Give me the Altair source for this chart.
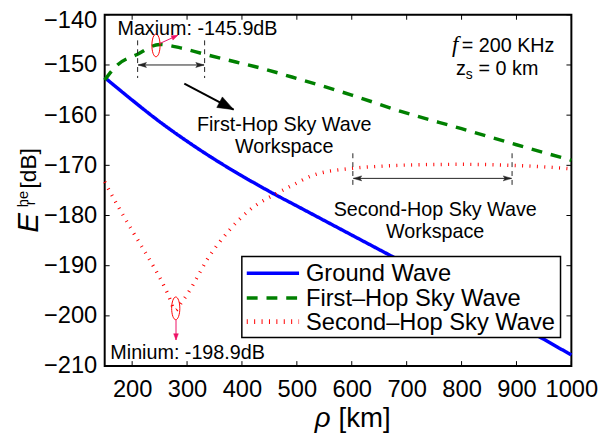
import altair as alt
import pandas as pd
import numpy as np

# ---------------- data ----------------
series_names = ["Ground Wave", "First–Hop Sky Wave", "Second–Hop Sky Wave"]
series_colors = ["#0000ff", "#008000", "#ff0000"]

rho_ground = [150, 200, 250, 300, 350, 400, 450, 500, 600, 700, 800, 900, 1000]
e_ground = [-152.5, -157.0, -161.3, -165.2, -168.8, -172.1, -175.2, -178.1,
            -183.9, -189.7, -195.6, -201.6, -207.8]

rho_first = [150, 173, 209, 250, 288, 330, 389, 437, 491, 600, 691, 800, 900, 1000]
e_first = [-153.0, -150.0, -147.9, -145.9, -146.6, -147.8, -149.4, -150.7,
           -152.4, -156.0, -159.3, -162.7, -165.9, -169.0]

rho_second = [150, 175, 200, 229, 250, 265, 279, 290, 301, 320, 337, 360, 378,
              414, 463, 486, 529, 601, 650, 714, 800, 892, 950, 1000]
e_second = [-173.3, -178.3, -183.0, -188.3, -192.3, -195.6, -198.9, -197.3,
            -195.6, -192.0, -188.7, -185.2, -182.8, -178.9, -175.6, -174.3,
            -172.0, -170.6, -170.2, -169.9, -169.8, -170.0, -170.3, -170.7]

x_ticks = [200, 300, 400, 500, 600, 700, 800, 900, 1000]
y_ticks = [-210, -200, -190, -180, -170, -160, -150, -140]

# annotation values (data units)
max_label = "Maxium: -145.9dB"
min_label = "Minium: -198.9dB"
max_point = (243.4, -146.1)
min_point = (279.4, -198.5)
first_ws = (210, 332)
second_ws = (602, 892)

# ---------------- layout ----------------
W, H = 473, 356
X0, X1 = 150, 1000
Y0, Y1 = -210, -140
SX = W / (X1 - X0)
SY = H / (Y1 - Y0)
FONT = "Liberation Sans"

xs = alt.Scale(domain=[X0, X1], nice=False, zero=False)
ys = alt.Scale(domain=[Y0, Y1], nice=False, zero=False)

rows = []
for name, rr, ee in zip(series_names, [rho_ground, rho_first, rho_second],
                        [e_ground, e_first, e_second]):
    for a, b in zip(rr, ee):
        rows.append({"series": name, "rho": a, "E": b})
df = pd.DataFrame(rows)

dashes = [[1, 0], [11, 9], [1, 6.5]]
widths = [3.5, 3.5, 5]

lines = alt.Chart(df).mark_line(interpolate="monotone").encode(
    x=alt.X("rho:Q", scale=xs, axis=alt.Axis(
        values=x_ticks, format="d", title=None, grid=False, domain=False, ticks=False, tickSize=0,
        labelFontSize=24, labelFont=FONT, labelColor="black", labelPadding=12,
        labelFlush=False, labelOverlap=False, labelBound=False)),
    y=alt.Y("E:Q", scale=ys, axis=alt.Axis(
        values=y_ticks, format="d", title=None, grid=False, domain=False, ticks=False, tickSize=0,
        labelFontSize=24, labelFont=FONT, labelColor="black", labelPadding=8,
        labelOffset={"condition": {"test": "datum.value == -140", "value": 6}, "value": 0},
        labelFlush=False, labelOverlap=False, labelBound=False)),
    color=alt.Color("series:N", scale=alt.Scale(domain=series_names, range=series_colors), legend=None),
    strokeDash=alt.StrokeDash("series:N", scale=alt.Scale(domain=series_names, range=dashes), legend=None),
    strokeWidth=alt.StrokeWidth("series:N", scale=alt.Scale(domain=series_names, range=widths), legend=None),
)

layers = [lines]

# inward ticks on all four sides
xt = pd.DataFrame({"v": x_ticks})
yt = pd.DataFrame({"v": y_ticks})
for ya, yb in [(H, H - 5), (0, 5)]:
    layers.append(alt.Chart(xt).mark_rule(color="black", strokeWidth=1).encode(
        x=alt.X("v:Q", scale=xs), y=alt.value(ya), y2=alt.value(yb)))
for xa, xb in [(0, 5), (W, W - 5)]:
    layers.append(alt.Chart(yt).mark_rule(color="black", strokeWidth=1).encode(
        y=alt.Y("v:Q", scale=ys), x=alt.value(xa), x2=alt.value(xb)))


def dpt(x, y):
    return pd.DataFrame({"x": [x], "y": [y]})


def seg(x1, y1, x2, y2, color, width, dash=None):
    kw = dict(color=color, strokeWidth=width)
    if dash:
        kw["strokeDash"] = dash
    d = pd.DataFrame({"x": [x1], "y": [y1], "x2": [x2], "y2": [y2]})
    return alt.Chart(d).mark_rule(**kw).encode(
        x=alt.X("x:Q", scale=xs), y=alt.Y("y:Q", scale=ys),
        x2="x2:Q", y2="y2:Q")


HEAD_SMALL = "M0,0 L2,-0.6 L1.6,0 L2,0.6 Z"
HEAD_TRI = "M0,0 L2,-0.75 L2,0.75 Z"
ELLIPSE = "M0,-1 A0.36,1 0 1,1 0,1 A0.36,1 0 1,1 0,-1 Z"


def head(x, y, fromx, fromy, shape, size, color):
    dx = (x - fromx) * SX
    dy = -(y - fromy) * SY
    ang = (np.degrees(np.arctan2(dy, dx)) - 180) % 360
    return alt.Chart(dpt(x, y)).mark_point(
        shape=shape, size=size, filled=True, fill=color, stroke=color, strokeWidth=0.5,
        angle=float(ang), opacity=1).encode(
        x=alt.X("x:Q", scale=xs), y=alt.Y("y:Q", scale=ys))


def arrow(x1, y1, x2, y2, color, width, shape, size, both=False):
    out = [seg(x1, y1, x2, y2, color, width), head(x2, y2, x1, y1, shape, size, color)]
    if both:
        out.append(head(x1, y1, x2, y2, shape, size, color))
    return out


def txt(text, x, y, size, align="left", baseline="alphabetic", style="normal",
        angle=0, font=FONT, pix=False, weight="normal"):
    kw = dict(align=align, baseline=baseline, fontSize=size, font=font,
              fontStyle=style, fontWeight=weight, color="black")
    if angle:
        kw["angle"] = angle
    if pix:
        return alt.Chart(pd.DataFrame({"t": [text]})).mark_text(**kw).encode(
            x=alt.value(x), y=alt.value(y), text="t:N")
    d = pd.DataFrame({"x": [x], "y": [y], "t": [text]})
    return alt.Chart(d).mark_text(**kw).encode(
        x=alt.X("x:Q", scale=xs), y=alt.Y("y:Q", scale=ys), text="t:N")


# workspace markers
for (a, b), (ytop, ybot, yarr) in zip([first_ws, second_ws],
                                      [(-145.1, -152.6, -150.0), (-167.6, -174.6, -172.6)]):
    for xv in (a, b):
        layers.append(seg(xv, ytop, xv, ybot, "#222222", 1, dash=[5, 4]))
    layers += arrow(a + 1, yarr, b - 1, yarr, "#222222", 1, HEAD_SMALL, 70, both=True)

# black pointer arrow
layers += arrow(295, -153.7, 384.9, -158.9, "black", 2, HEAD_TRI, 260)

# ellipses at max / min
for (px, py) in (max_point, min_point):
    layers.append(alt.Chart(dpt(px, py)).mark_point(
        shape=ELLIPSE, size=529, filled=False, stroke="#ff0000", strokeWidth=1, opacity=1).encode(
        x=alt.X("x:Q", scale=xs), y=alt.Y("y:Q", scale=ys)))

# magenta arrows
layers += arrow(248.8, -145.8, 283, -144.1, "#ee1166", 1, HEAD_TRI, 40)
layers += arrow(279.9, -200.8, 279.9, -204.8, "#ee1166", 1, HEAD_TRI, 40)

# annotation texts
layers.append(txt(max_label, 319, -142.9, 20, align="center", baseline="middle"))
layers.append(txt(min_label, 301, -207.4, 20, align="center", baseline="middle"))
layers.append(txt("First-Hop Sky Wave", 477, -163.2, 20, align="center"))
layers.append(txt("Workspace", 477, -167.5, 20, align="center"))
layers.append(txt("Second-Hop Sky Wave", 752, -180.1, 20, align="center"))
layers.append(txt("Workspace", 752, -184.4, 20, align="center"))

layers.append(txt("f", 782.5, -147.5, 23, style="italic", font="Liberation Serif"))
layers.append(txt("= 200 KHz", 800.5, -147.5, 20))
layers.append(txt("z", 789.7, -151.9, 20))
layers.append(txt("s", 807.7, -152.7, 14))
layers.append(txt("= 0 km", 831, -151.9, 20))

# legend (drawn by hand)
LX0, LX1, LY0, LY1 = 139, 462, 245, 327
layers.append(alt.Chart(pd.DataFrame({"a": [0]})).mark_rect(
    fill="white", stroke="black", strokeWidth=1.5).encode(
    x=alt.value(LX0), x2=alt.value(LX1), y=alt.value(LY0), y2=alt.value(LY1)))
leg_rows = [262, 287, 311]
for name, col, dsh, wd, yy in zip(series_names, series_colors, dashes, widths, leg_rows):
    layers.append(alt.Chart(pd.DataFrame({"t": [name]})).mark_rule(
        color=col, strokeWidth=wd, strokeDash=dsh).encode(
        x=alt.value(144), x2=alt.value(197), y=alt.value(yy)))
    layers.append(txt(name, 204, yy + 1, 24, baseline="middle", pix=True))

# axis titles
layers.append(txt("ρ", 213, 418, 28, style="italic", pix=True))
layers.append(txt("[km]", 237, 418, 28, pix=True))
layers.append(txt("E", -68, 221, 30, style="italic", angle=270, pix=True))
layers.append(txt("r", -71, 193, 15, angle=270, pix=True))
layers.append(txt("he", -78, 195, 15, angle=270, pix=True))
layers.append(txt("[dB]", -70, 176, 23, angle=270, pix=True))

chart = alt.layer(*layers).properties(
    width=W, height=H, autosize="none",
    padding={"left": 98, "top": 4, "right": 28, "bottom": 67},
).configure_view(stroke="black", strokeWidth=2)

chart.save("out.html", embed_options={"renderer": "svg", "actions": False})
